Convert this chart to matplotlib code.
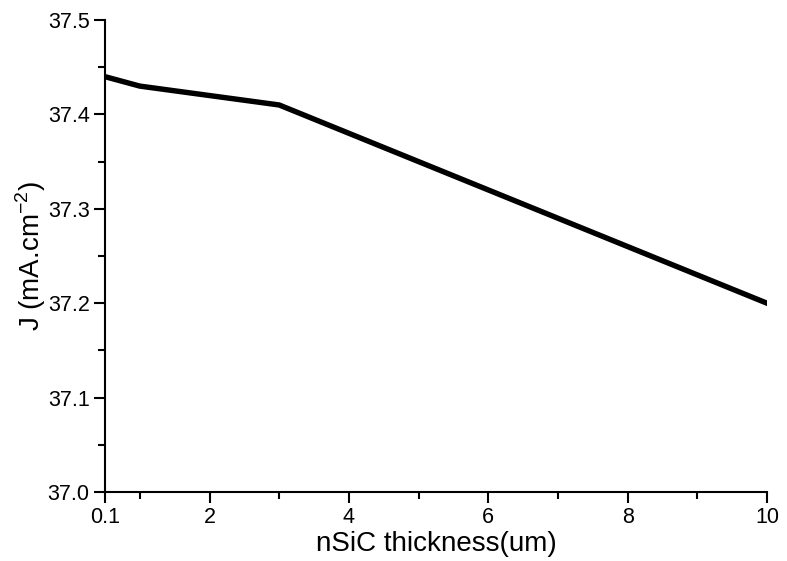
import matplotlib
matplotlib.use("Agg")
import matplotlib.pyplot as plt
from matplotlib.ticker import MultipleLocator, FixedLocator

plt.rcParams['font.family'] = ['Liberation Sans', 'DejaVu Sans']
plt.rcParams['mathtext.fontset'] = 'custom'
plt.rcParams['mathtext.rm'] = 'Liberation Sans'

# axis position of each point (first point sits at the left end, labelled 0.1)
thickness_pos = [0.5, 1, 3, 10]
current_j = [37.44, 37.43, 37.41, 37.20]

xtick_pos = [0.5, 2, 4, 6, 8, 10]
xtick_labels = ["0.1", "2", "4", "6", "8", "10"]
xminor_pos = [1, 3, 5, 7, 9]

fig = plt.figure(figsize=(7.87, 5.61), dpi=100)
ax = fig.add_axes([0.1334, 0.123, 0.8412, 0.8413])

ax.plot(thickness_pos, current_j, color="black", lw=3.9, solid_joinstyle="miter")

ax.set_xlim(0.5, 10)
ax.set_ylim(37.0, 37.5)
ax.xaxis.set_major_locator(FixedLocator(xtick_pos))
ax.set_xticklabels(xtick_labels)
ax.xaxis.set_minor_locator(FixedLocator(xminor_pos))
ax.yaxis.set_major_locator(MultipleLocator(0.1))
ax.yaxis.set_minor_locator(MultipleLocator(0.05))
ax.yaxis.set_major_formatter(matplotlib.ticker.FormatStrFormatter("%.1f"))

for s in ["top", "right"]:
    ax.spines[s].set_visible(False)
for s in ["left", "bottom"]:
    ax.spines[s].set_linewidth(1.5)

ax.tick_params(which="major", direction="out", length=8, width=1.5, labelsize=15.5, pad=3)
ax.tick_params(which="minor", direction="out", length=5, width=1.5)

ax.set_xlabel("nSiC thickness(um)", fontsize=20, labelpad=2)
ax.set_ylabel(r"J (mA.cm$^{\mathrm{-2}}$)", fontsize=20, labelpad=0)

fig.savefig("out.png", dpi=100)
